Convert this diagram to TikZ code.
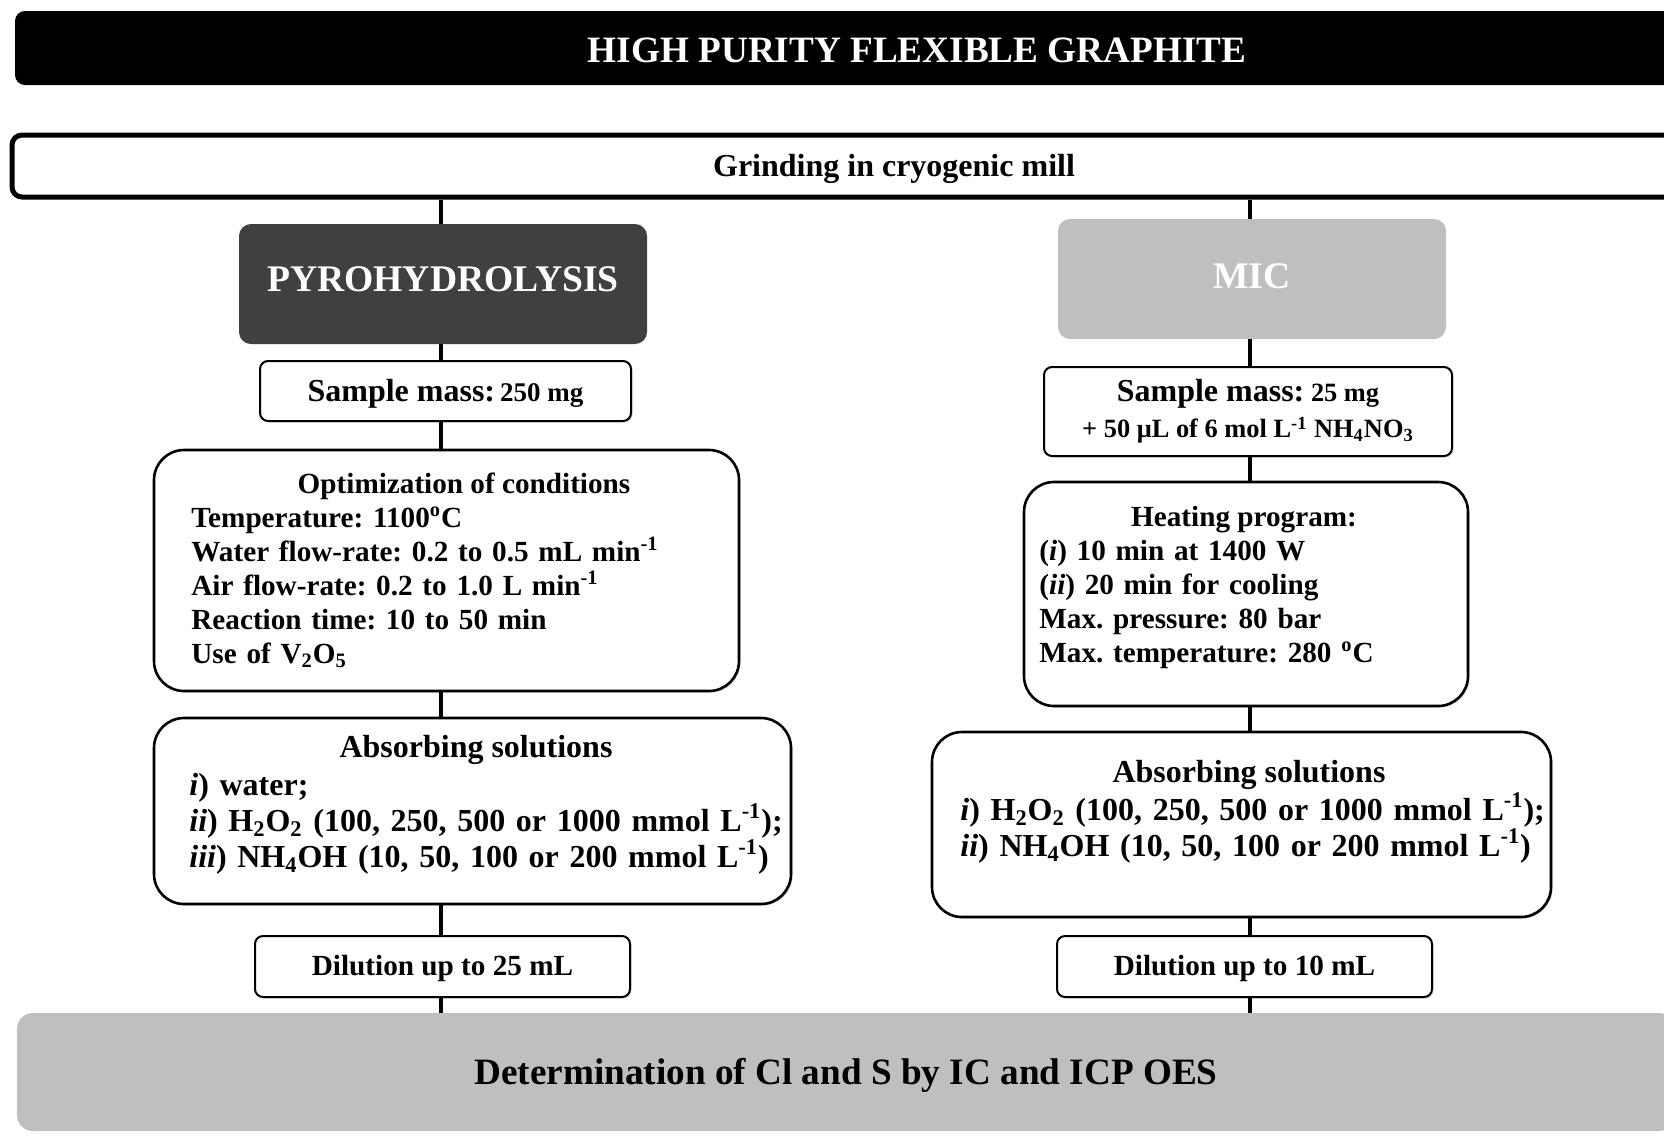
\documentclass[tikz,border=0pt]{standalone}
\usepackage{fontspec}
\setmainfont{Liberation Serif}
\usetikzlibrary{shadows}
\frenchspacing

\definecolor{pyrogray}{RGB}{64,64,64}
\definecolor{micgray}{RGB}{191,191,191}

\tikzset{
    stepbox/.style={draw, line width=1pt, rounded corners=4pt, fill=white, inner sep=0pt,
        drop shadow={shadow xshift=0.8pt, shadow yshift=-0.8pt, opacity=0.3}},
    bigbox/.style={stepbox, rounded corners=15pt, line width=1.3pt},
    headbox/.style={inner sep=0pt, rounded corners=6pt, text=white,
        font=\bfseries\fontsize{18.8}{22}\selectfont},
    link/.style={line width=2pt},
    bodytxt/.style={anchor=base west, inner sep=0pt, text width=320pt,
        font=\bfseries\fontsize{14.6}{17}\selectfont},
    headtxt/.style={anchor=base, inner sep=0pt, font=\bfseries\fontsize{14.6}{17}\selectfont},
}

\begin{document}
\begin{tikzpicture}[x=0.5pt, y=-0.5pt]
    \useasboundingbox (0,0) rectangle (1664,1136);
    \clip (0,0) rectangle (1664,1136);
    \coordinate (colL) at (441,0);
    \coordinate (colR) at (1250,0);

    % top and bottom bars
    \node[fill=black, text=white, rounded corners=5pt, inner sep=0pt,
        minimum width=902pt, minimum height=37pt, text height=14.4pt,
        font=\bfseries\fontsize{18.6}{22}\selectfont] (title) at (917,48) {HIGH PURITY FLEXIBLE GRAPHITE};
    \node[stepbox, line width=2.5pt, rounded corners=5pt, minimum width=882pt, minimum height=31pt,
        text height=14pt, font=\bfseries\fontsize{16}{19}\selectfont] (grind) at (894,166) {Grinding in cryogenic mill};
    \node[fill=micgray, rounded corners=8pt, inner sep=0pt, minimum width=829pt, minimum height=59pt,
        text height=16pt, font=\bfseries\fontsize{18.6}{22}\selectfont] (bot) at (846,1072)
        {Determination of Cl and S by IC and ICP OES};

    % pyrohydrolysis column
    \node[headbox, fill=pyrogray, minimum width=204pt, minimum height=60pt, text depth=5.3pt]
        (pyro) at (443,284) {PYROHYDROLYSIS};
    \node[stepbox, minimum width=185.5pt, minimum height=30pt, text height=14pt, font=\bfseries] (smL) at (445.5,391)
        {{\fontsize{16}{18}\selectfont Sample mass:} {\fontsize{13.5}{15}\selectfont 250 mg}};
    \node[bigbox, minimum width=292.5pt, minimum height=120.5pt] (opt) at (446.5,570.5) {};
    \node[headtxt] (opthead) at (464,493) {Optimization of conditions};
    \node[bodytxt] (optbody) at (191,527) {\raggedright
        Temperature: 1100\textsuperscript{o}C\\
        Water flow-rate: 0.2 to 0.5 mL min\textsuperscript{-1}\\
        Air flow-rate: 0.2 to 1.0 L min\textsuperscript{-1}\\
        Reaction time: 10 to 50 min\\
        Use of V\textsubscript{2}O\textsubscript{5}};
    \node[bigbox, minimum width=318.5pt, minimum height=93pt] (absL) at (472.5,811) {};
    \node[headtxt, font=\bfseries\fontsize{16}{18}\selectfont] (absLhead) at (476,757) {Absorbing solutions};
    \node[bodytxt, font=\bfseries\fontsize{16}{18}\selectfont] (absLbody) at (189,795) {\raggedright
        \textit{i}) water;\\
        \textit{ii}) H\textsubscript{2}O\textsubscript{2} (100, 250, 500 or 1000 mmol L\textsuperscript{-1});\\
        \textit{iii}) NH\textsubscript{4}OH (10, 50, 100 or 200 mmol L\textsuperscript{-1})};
    \node[stepbox, minimum width=187.5pt, minimum height=30.5pt, text height=12pt,
        font=\bfseries\fontsize{14.6}{17}\selectfont] (dilL) at (442.5,966.5) {Dilution up to 25 mL};

    % MIC column
    \node[headbox, fill=micgray, minimum width=194pt, minimum height=60pt, text depth=3.2pt]
        (mic) at (1252,279) {MIC};
    \node[stepbox, minimum width=204pt, minimum height=44.5pt, align=center,
        font=\bfseries\fontsize{13.2}{18}\selectfont] (smR) at (1248,411.5)
        {{\fontsize{16}{18}\selectfont Sample mass:} 25 mg\\
        + 50 μL of 6 mol L\textsuperscript{-1} NH\textsubscript{4}NO\textsubscript{3}};
    \node[bigbox, minimum width=222pt, minimum height=112pt] (heat) at (1246,594) {};
    \node[headtxt] (heathead) at (1244,526) {Heating program:};
    \node[bodytxt] (heatbody) at (1039,560) {\raggedright
        (\textit{i}) 10 min at 1400 W\\
        (\textit{ii}) 20 min for cooling\\
        Max. pressure: 80 bar\\
        Max. temperature: 280 \textsuperscript{o}C};
    \node[bigbox, minimum width=309.5pt, minimum height=92.5pt] (absR) at (1241.5,824.5) {};
    \node[headtxt, font=\bfseries\fontsize{16}{18}\selectfont] (absRhead) at (1249,782) {Absorbing solutions};
    \node[bodytxt, font=\bfseries\fontsize{16}{18}\selectfont] (absRbody) at (960,820) {\raggedright
        \textit{i}) H\textsubscript{2}O\textsubscript{2} (100, 250, 500 or 1000 mmol L\textsuperscript{-1});\\
        \textit{ii}) NH\textsubscript{4}OH (10, 50, 100 or 200 mmol L\textsuperscript{-1})};
    \node[stepbox, minimum width=187.5pt, minimum height=30.5pt, text height=12pt,
        font=\bfseries\fontsize{14.6}{17}\selectfont] (dilR) at (1244.5,966.5) {Dilution up to 10 mL};

    % connectors
    \foreach \a/\b in {grind/pyro, pyro/smL, smL/opt, opt/absL, absL/dilL, dilL/bot}
        \draw[link] (colL |- \a.south) -- (colL |- \b.north);
    \foreach \a/\b in {grind/mic, mic/smR, smR/heat, heat/absR, absR/dilR, dilR/bot}
        \draw[link] (colR |- \a.south) -- (colR |- \b.north);
\end{tikzpicture}
\end{document}
